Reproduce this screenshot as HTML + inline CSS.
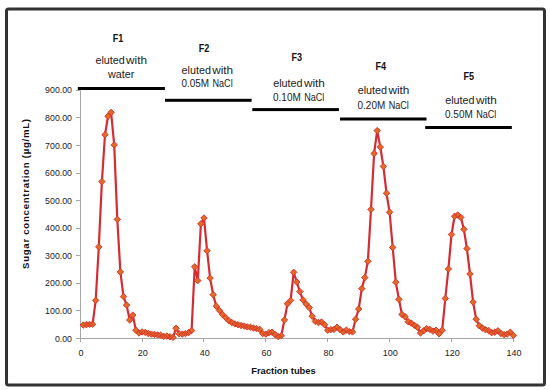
<!DOCTYPE html><html><head><meta charset="utf-8"><style>html,body{margin:0;padding:0;background:#fff;width:550px;height:390px;overflow:hidden}svg{display:block}text{font-family:"Liberation Sans",sans-serif}</style></head><body>
<svg width="550" height="390" viewBox="0 0 550 390">
<rect x="0" y="0" width="550" height="390" fill="#fff"/>
<rect x="6.5" y="9" width="538" height="376" rx="2" fill="#fff" stroke="#333" stroke-width="3"/>
<path d="M80.5 90.3V339M80 338.5H513.9" stroke="#a6a6a6" stroke-width="1" fill="none"/>
<path d="M76 338.5H80.5M76 310.5H80.5M76 283.5H80.5M76 255.5H80.5M76 228.5H80.5M76 200.5H80.5M76 173.5H80.5M76 145.5H80.5M76 117.5H80.5M76 90.5H80.5M80.5 338.5V342M142.5 338.5V342M203.5 338.5V342M265.5 338.5V342M327.5 338.5V342M389.5 338.5V342M451.5 338.5V342M513.5 338.5V342" stroke="#a6a6a6" stroke-width="1" fill="none"/>
<text x="72" y="341.5" font-size="8.8" text-anchor="end" fill="#222">0.00</text>
<text x="72" y="313.9" font-size="8.8" text-anchor="end" fill="#222">100.00</text>
<text x="72" y="286.3" font-size="8.8" text-anchor="end" fill="#222">200.00</text>
<text x="72" y="258.8" font-size="8.8" text-anchor="end" fill="#222">300.00</text>
<text x="72" y="231.2" font-size="8.8" text-anchor="end" fill="#222">400.00</text>
<text x="72" y="203.6" font-size="8.8" text-anchor="end" fill="#222">500.00</text>
<text x="72" y="176.0" font-size="8.8" text-anchor="end" fill="#222">600.00</text>
<text x="72" y="148.5" font-size="8.8" text-anchor="end" fill="#222">700.00</text>
<text x="72" y="120.9" font-size="8.8" text-anchor="end" fill="#222">800.00</text>
<text x="72" y="93.3" font-size="8.8" text-anchor="end" fill="#222">900.00</text>
<text x="80.9" y="356" font-size="9" text-anchor="middle" fill="#222">0</text>
<text x="142.8" y="356" font-size="9" text-anchor="middle" fill="#222">20</text>
<text x="204.7" y="356" font-size="9" text-anchor="middle" fill="#222">40</text>
<text x="266.5" y="356" font-size="9" text-anchor="middle" fill="#222">60</text>
<text x="328.4" y="356" font-size="9" text-anchor="middle" fill="#222">80</text>
<text x="390.3" y="356" font-size="9" text-anchor="middle" fill="#222">100</text>
<text x="452.2" y="356" font-size="9" text-anchor="middle" fill="#222">120</text>
<text x="514.1" y="356" font-size="9" text-anchor="middle" fill="#222">140</text>
<text x="283.5" y="374" font-size="9.8" font-weight="bold" text-anchor="middle" fill="#111" textLength="64.5" lengthAdjust="spacingAndGlyphs">Fraction tubes</text>
<text transform="translate(29.0 194) rotate(-90)" x="0" y="0" font-size="9.6" font-weight="bold" text-anchor="middle" fill="#111" textLength="150" lengthAdjust="spacing">Sugar concentration (µg/mL)</text>
<polyline points="83.3,325.0 86.4,324.7 89.5,324.4 92.6,324.2 95.7,300.4 98.8,246.9 101.9,181.6 105.0,134.7 108.0,116.2 111.1,112.4 114.2,144.9 117.3,219.4 120.4,272.0 123.5,296.6 126.6,305.1 129.7,320.0 132.8,315.1 135.9,330.2 139.0,333.0 142.1,331.9 145.2,332.4 148.3,333.5 151.4,334.1 154.5,334.4 157.6,334.9 160.6,335.2 163.7,336.3 166.8,336.0 169.9,336.8 173.0,337.4 176.1,328.3 179.2,333.8 182.3,334.1 185.4,333.5 188.5,332.7 191.6,330.5 194.7,266.8 197.8,280.6 200.9,223.8 204.0,218.0 207.1,250.8 210.1,278.1 213.2,294.7 216.3,306.2 219.4,310.4 222.5,314.5 225.6,317.5 228.7,320.6 231.8,322.5 234.9,323.9 238.0,324.7 241.1,325.5 244.2,326.1 247.3,326.9 250.4,327.2 253.5,328.0 256.6,328.6 259.7,329.4 262.7,333.5 265.8,334.1 268.9,332.7 272.0,332.2 275.1,334.6 278.2,336.6 281.3,335.7 284.4,320.0 287.5,303.8 290.6,300.4 293.7,272.3 296.8,282.0 299.9,291.6 303.0,299.9 306.1,304.0 309.2,307.6 312.2,316.2 315.3,321.4 318.4,322.5 321.5,322.0 324.6,324.7 327.7,330.2 330.8,329.7 333.9,329.4 337.0,327.2 340.1,329.7 343.2,331.9 346.3,330.2 349.4,331.6 352.5,331.9 355.6,319.2 358.7,309.0 361.8,288.6 364.8,277.6 367.9,261.3 371.0,209.4 374.1,153.5 377.2,130.6 380.3,147.1 383.4,166.4 386.5,193.2 389.6,212.2 392.7,247.5 395.8,282.2 398.9,299.3 402.0,314.5 405.1,316.7 408.2,321.7 411.3,323.1 414.4,325.3 417.4,327.2 420.5,333.0 423.6,330.8 426.7,328.6 429.8,329.4 432.9,331.1 436.0,330.2 439.1,333.8 442.2,330.2 445.3,298.5 448.4,269.0 451.5,234.5 454.6,216.3 457.7,215.0 460.8,217.4 463.9,229.3 466.9,248.6 470.0,274.0 473.1,302.1 476.2,319.2 479.3,325.8 482.4,328.0 485.5,329.7 488.6,330.5 491.7,332.7 494.8,332.2 497.9,330.8 501.0,333.5 504.1,334.6 507.2,334.1 510.3,332.2 513.4,335.5" fill="none" stroke="#d62b33" stroke-width="2.2" stroke-linejoin="round"/>
<path d="M83.3 321.8L86.5 325.0L83.3 328.2L80.1 325.0ZM86.4 321.5L89.6 324.7L86.4 327.9L83.2 324.7ZM89.5 321.2L92.7 324.4L89.5 327.6L86.3 324.4ZM92.6 321.0L95.8 324.2L92.6 327.4L89.4 324.2ZM95.7 297.2L98.9 300.4L95.7 303.6L92.5 300.4ZM98.8 243.7L102.0 246.9L98.8 250.1L95.6 246.9ZM101.9 178.4L105.1 181.6L101.9 184.8L98.7 181.6ZM105.0 131.5L108.2 134.7L105.0 137.9L101.8 134.7ZM108.0 113.0L111.2 116.2L108.0 119.4L104.8 116.2ZM111.1 109.2L114.3 112.4L111.1 115.6L107.9 112.4ZM114.2 141.7L117.4 144.9L114.2 148.1L111.0 144.9ZM117.3 216.2L120.5 219.4L117.3 222.6L114.1 219.4ZM120.4 268.8L123.6 272.0L120.4 275.2L117.2 272.0ZM123.5 293.4L126.7 296.6L123.5 299.8L120.3 296.6ZM126.6 301.9L129.8 305.1L126.6 308.3L123.4 305.1ZM129.7 316.8L132.9 320.0L129.7 323.2L126.5 320.0ZM132.8 311.9L136.0 315.1L132.8 318.3L129.6 315.1ZM135.9 327.0L139.1 330.2L135.9 333.4L132.7 330.2ZM139.0 329.8L142.2 333.0L139.0 336.2L135.8 333.0ZM142.1 328.7L145.3 331.9L142.1 335.1L138.9 331.9ZM145.2 329.2L148.4 332.4L145.2 335.6L142.0 332.4ZM148.3 330.3L151.5 333.5L148.3 336.7L145.1 333.5ZM151.4 330.9L154.6 334.1L151.4 337.3L148.2 334.1ZM154.5 331.2L157.7 334.4L154.5 337.6L151.3 334.4ZM157.6 331.7L160.8 334.9L157.6 338.1L154.4 334.9ZM160.6 332.0L163.8 335.2L160.6 338.4L157.4 335.2ZM163.7 333.1L166.9 336.3L163.7 339.5L160.5 336.3ZM166.8 332.8L170.0 336.0L166.8 339.2L163.6 336.0ZM169.9 333.6L173.1 336.8L169.9 340.0L166.7 336.8ZM173.0 334.2L176.2 337.4L173.0 340.6L169.8 337.4ZM176.1 325.1L179.3 328.3L176.1 331.5L172.9 328.3ZM179.2 330.6L182.4 333.8L179.2 337.0L176.0 333.8ZM182.3 330.9L185.5 334.1L182.3 337.3L179.1 334.1ZM185.4 330.3L188.6 333.5L185.4 336.7L182.2 333.5ZM188.5 329.5L191.7 332.7L188.5 335.9L185.3 332.7ZM191.6 327.3L194.8 330.5L191.6 333.7L188.4 330.5ZM194.7 263.6L197.9 266.8L194.7 270.0L191.5 266.8ZM197.8 277.4L201.0 280.6L197.8 283.8L194.6 280.6ZM200.9 220.6L204.1 223.8L200.9 227.0L197.7 223.8ZM204.0 214.8L207.2 218.0L204.0 221.2L200.8 218.0ZM207.1 247.6L210.3 250.8L207.1 254.0L203.9 250.8ZM210.1 274.9L213.3 278.1L210.1 281.3L206.9 278.1ZM213.2 291.5L216.4 294.7L213.2 297.9L210.0 294.7ZM216.3 303.0L219.5 306.2L216.3 309.4L213.1 306.2ZM219.4 307.2L222.6 310.4L219.4 313.6L216.2 310.4ZM222.5 311.3L225.7 314.5L222.5 317.7L219.3 314.5ZM225.6 314.3L228.8 317.5L225.6 320.7L222.4 317.5ZM228.7 317.4L231.9 320.6L228.7 323.8L225.5 320.6ZM231.8 319.3L235.0 322.5L231.8 325.7L228.6 322.5ZM234.9 320.7L238.1 323.9L234.9 327.1L231.7 323.9ZM238.0 321.5L241.2 324.7L238.0 327.9L234.8 324.7ZM241.1 322.3L244.3 325.5L241.1 328.7L237.9 325.5ZM244.2 322.9L247.4 326.1L244.2 329.3L241.0 326.1ZM247.3 323.7L250.5 326.9L247.3 330.1L244.1 326.9ZM250.4 324.0L253.6 327.2L250.4 330.4L247.2 327.2ZM253.5 324.8L256.7 328.0L253.5 331.2L250.3 328.0ZM256.6 325.4L259.8 328.6L256.6 331.8L253.4 328.6ZM259.7 326.2L262.9 329.4L259.7 332.6L256.5 329.4ZM262.7 330.3L265.9 333.5L262.7 336.7L259.5 333.5ZM265.8 330.9L269.0 334.1L265.8 337.3L262.6 334.1ZM268.9 329.5L272.1 332.7L268.9 335.9L265.7 332.7ZM272.0 329.0L275.2 332.2L272.0 335.4L268.8 332.2ZM275.1 331.4L278.3 334.6L275.1 337.8L271.9 334.6ZM278.2 333.4L281.4 336.6L278.2 339.8L275.0 336.6ZM281.3 332.5L284.5 335.7L281.3 338.9L278.1 335.7ZM284.4 316.8L287.6 320.0L284.4 323.2L281.2 320.0ZM287.5 300.6L290.7 303.8L287.5 307.0L284.3 303.8ZM290.6 297.2L293.8 300.4L290.6 303.6L287.4 300.4ZM293.7 269.1L296.9 272.3L293.7 275.5L290.5 272.3ZM296.8 278.8L300.0 282.0L296.8 285.2L293.6 282.0ZM299.9 288.4L303.1 291.6L299.9 294.8L296.7 291.6ZM303.0 296.7L306.2 299.9L303.0 303.1L299.8 299.9ZM306.1 300.8L309.3 304.0L306.1 307.2L302.9 304.0ZM309.2 304.4L312.4 307.6L309.2 310.8L306.0 307.6ZM312.2 313.0L315.4 316.2L312.2 319.4L309.1 316.2ZM315.3 318.2L318.5 321.4L315.3 324.6L312.1 321.4ZM318.4 319.3L321.6 322.5L318.4 325.7L315.2 322.5ZM321.5 318.8L324.7 322.0L321.5 325.2L318.3 322.0ZM324.6 321.5L327.8 324.7L324.6 327.9L321.4 324.7ZM327.7 327.0L330.9 330.2L327.7 333.4L324.5 330.2ZM330.8 326.5L334.0 329.7L330.8 332.9L327.6 329.7ZM333.9 326.2L337.1 329.4L333.9 332.6L330.7 329.4ZM337.0 324.0L340.2 327.2L337.0 330.4L333.8 327.2ZM340.1 326.5L343.3 329.7L340.1 332.9L336.9 329.7ZM343.2 328.7L346.4 331.9L343.2 335.1L340.0 331.9ZM346.3 327.0L349.5 330.2L346.3 333.4L343.1 330.2ZM349.4 328.4L352.6 331.6L349.4 334.8L346.2 331.6ZM352.5 328.7L355.7 331.9L352.5 335.1L349.3 331.9ZM355.6 316.0L358.8 319.2L355.6 322.4L352.4 319.2ZM358.7 305.8L361.9 309.0L358.7 312.2L355.5 309.0ZM361.8 285.4L365.0 288.6L361.8 291.8L358.6 288.6ZM364.8 274.4L368.0 277.6L364.8 280.8L361.6 277.6ZM367.9 258.1L371.1 261.3L367.9 264.5L364.7 261.3ZM371.0 206.2L374.2 209.4L371.0 212.6L367.8 209.4ZM374.1 150.3L377.3 153.5L374.1 156.7L370.9 153.5ZM377.2 127.4L380.4 130.6L377.2 133.8L374.0 130.6ZM380.3 143.9L383.5 147.1L380.3 150.3L377.1 147.1ZM383.4 163.2L386.6 166.4L383.4 169.6L380.2 166.4ZM386.5 190.0L389.7 193.2L386.5 196.4L383.3 193.2ZM389.6 209.0L392.8 212.2L389.6 215.4L386.4 212.2ZM392.7 244.3L395.9 247.5L392.7 250.7L389.5 247.5ZM395.8 279.0L399.0 282.2L395.8 285.4L392.6 282.2ZM398.9 296.1L402.1 299.3L398.9 302.5L395.7 299.3ZM402.0 311.3L405.2 314.5L402.0 317.7L398.8 314.5ZM405.1 313.5L408.3 316.7L405.1 319.9L401.9 316.7ZM408.2 318.5L411.4 321.7L408.2 324.9L405.0 321.7ZM411.3 319.9L414.5 323.1L411.3 326.3L408.1 323.1ZM414.4 322.1L417.6 325.3L414.4 328.5L411.2 325.3ZM417.4 324.0L420.6 327.2L417.4 330.4L414.2 327.2ZM420.5 329.8L423.7 333.0L420.5 336.2L417.3 333.0ZM423.6 327.6L426.8 330.8L423.6 334.0L420.4 330.8ZM426.7 325.4L429.9 328.6L426.7 331.8L423.5 328.6ZM429.8 326.2L433.0 329.4L429.8 332.6L426.6 329.4ZM432.9 327.9L436.1 331.1L432.9 334.3L429.7 331.1ZM436.0 327.0L439.2 330.2L436.0 333.4L432.8 330.2ZM439.1 330.6L442.3 333.8L439.1 337.0L435.9 333.8ZM442.2 327.0L445.4 330.2L442.2 333.4L439.0 330.2ZM445.3 295.3L448.5 298.5L445.3 301.7L442.1 298.5ZM448.4 265.8L451.6 269.0L448.4 272.2L445.2 269.0ZM451.5 231.3L454.7 234.5L451.5 237.7L448.3 234.5ZM454.6 213.1L457.8 216.3L454.6 219.5L451.4 216.3ZM457.7 211.8L460.9 215.0L457.7 218.2L454.5 215.0ZM460.8 214.2L464.0 217.4L460.8 220.6L457.6 217.4ZM463.9 226.1L467.1 229.3L463.9 232.5L460.7 229.3ZM466.9 245.4L470.1 248.6L466.9 251.8L463.8 248.6ZM470.0 270.8L473.2 274.0L470.0 277.2L466.8 274.0ZM473.1 298.9L476.3 302.1L473.1 305.3L469.9 302.1ZM476.2 316.0L479.4 319.2L476.2 322.4L473.0 319.2ZM479.3 322.6L482.5 325.8L479.3 329.0L476.1 325.8ZM482.4 324.8L485.6 328.0L482.4 331.2L479.2 328.0ZM485.5 326.5L488.7 329.7L485.5 332.9L482.3 329.7ZM488.6 327.3L491.8 330.5L488.6 333.7L485.4 330.5ZM491.7 329.5L494.9 332.7L491.7 335.9L488.5 332.7ZM494.8 329.0L498.0 332.2L494.8 335.4L491.6 332.2ZM497.9 327.6L501.1 330.8L497.9 334.0L494.7 330.8ZM501.0 330.3L504.2 333.5L501.0 336.7L497.8 333.5ZM504.1 331.4L507.3 334.6L504.1 337.8L500.9 334.6ZM507.2 330.9L510.4 334.1L507.2 337.3L504.0 334.1ZM510.3 329.0L513.5 332.2L510.3 335.4L507.1 332.2ZM513.4 332.3L516.6 335.5L513.4 338.7L510.2 335.5Z" fill="#e46a2a" stroke="#d8382a" stroke-width="1"/>
<rect x="77.8" y="87.0" width="87.1" height="3" fill="#000"/>
<rect x="165" y="98.8" width="86.6" height="3" fill="#000"/>
<rect x="252.3" y="108.1" width="86.6" height="3" fill="#000"/>
<rect x="340" y="117.5" width="86.5" height="3" fill="#000"/>
<rect x="425.2" y="126.0" width="86.6" height="3" fill="#000"/>
<text x="112.8" y="42" font-size="10.2" font-weight="bold" fill="#111" textLength="10.6" lengthAdjust="spacingAndGlyphs">F1</text>
<text x="95.4" y="63.9" font-size="10" fill="#222" lengthAdjust="spacingAndGlyphs" textLength="29.4">eluted</text>
<text x="126.1" y="63.9" font-size="10" fill="#222" lengthAdjust="spacingAndGlyphs" textLength="21.0">with</text>
<text x="108.0" y="78.0" font-size="10" fill="#222" lengthAdjust="spacingAndGlyphs" textLength="26.4">water</text>
<text x="198.7" y="51.8" font-size="10.2" font-weight="bold" fill="#111" textLength="10.6" lengthAdjust="spacingAndGlyphs">F2</text>
<text x="181.5" y="73.9" font-size="10" fill="#222" lengthAdjust="spacingAndGlyphs" textLength="29.4">eluted</text>
<text x="212.2" y="73.9" font-size="10" fill="#222" lengthAdjust="spacingAndGlyphs" textLength="21.0">with</text>
<text x="181.4" y="87.4" font-size="10" fill="#222" lengthAdjust="spacingAndGlyphs" textLength="27.6">0.05M</text>
<text x="212.5" y="87.4" font-size="10" fill="#222" lengthAdjust="spacingAndGlyphs" textLength="20.2">NaCl</text>
<text x="291.5" y="60.9" font-size="10.2" font-weight="bold" fill="#111" textLength="10.6" lengthAdjust="spacingAndGlyphs">F3</text>
<text x="273.2" y="87.0" font-size="10" fill="#222" lengthAdjust="spacingAndGlyphs" textLength="29.4">eluted</text>
<text x="303.9" y="87.0" font-size="10" fill="#222" lengthAdjust="spacingAndGlyphs" textLength="21.0">with</text>
<text x="273.1" y="100.8" font-size="10" fill="#222" lengthAdjust="spacingAndGlyphs" textLength="27.6">0.10M</text>
<text x="304.2" y="100.8" font-size="10" fill="#222" lengthAdjust="spacingAndGlyphs" textLength="20.2">NaCl</text>
<text x="375.5" y="69.7" font-size="10.2" font-weight="bold" fill="#111" textLength="10.6" lengthAdjust="spacingAndGlyphs">F4</text>
<text x="357.7" y="94.2" font-size="10" fill="#222" lengthAdjust="spacingAndGlyphs" textLength="29.4">eluted</text>
<text x="388.4" y="94.2" font-size="10" fill="#222" lengthAdjust="spacingAndGlyphs" textLength="21.0">with</text>
<text x="357.6" y="108.7" font-size="10" fill="#222" lengthAdjust="spacingAndGlyphs" textLength="27.6">0.20M</text>
<text x="388.7" y="108.7" font-size="10" fill="#222" lengthAdjust="spacingAndGlyphs" textLength="20.2">NaCl</text>
<text x="463.5" y="79.9" font-size="10.2" font-weight="bold" fill="#111" textLength="10.6" lengthAdjust="spacingAndGlyphs">F5</text>
<text x="445.2" y="104.3" font-size="10" fill="#222" lengthAdjust="spacingAndGlyphs" textLength="29.4">eluted</text>
<text x="475.9" y="104.3" font-size="10" fill="#222" lengthAdjust="spacingAndGlyphs" textLength="21.0">with</text>
<text x="445.1" y="118.4" font-size="10" fill="#222" lengthAdjust="spacingAndGlyphs" textLength="27.6">0.50M</text>
<text x="476.2" y="118.4" font-size="10" fill="#222" lengthAdjust="spacingAndGlyphs" textLength="20.2">NaCl</text>
</svg></body></html>
